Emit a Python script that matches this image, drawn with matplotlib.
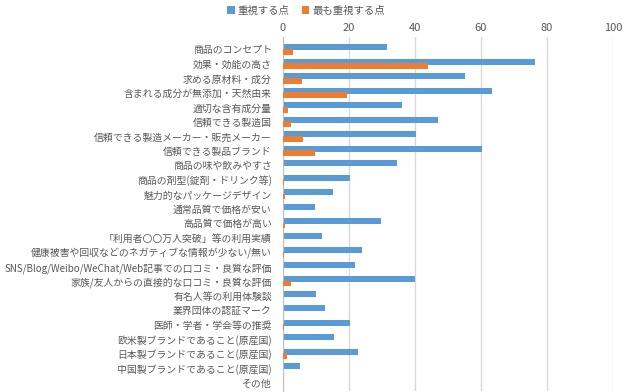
import matplotlib
matplotlib.use("Agg")
import matplotlib.pyplot as plt
import numpy as np

plt.rcParams['font.family'] = ['Noto Sans CJK JP', 'DejaVu Sans']

# Data
categories = [
    "商品のコンセプト", "効果・効能の高さ", "求める原材料・成分",
    "含まれる成分が無添加・天然由来", "適切な含有成分量", "信頼できる製造国",
    "信頼できる製造メーカー・販売メーカー", "信頼できる製品ブランド",
    "商品の味や飲みやすさ", "商品の剤型(錠剤・ドリンク等)", "魅力的なパッケージデザイン",
    "通常品質で価格が安い", "高品質で価格が高い", "「利用者〇〇万人突破」等の利用実績",
    "健康被害や回収などのネガティブな情報が少ない/無い",
    "SNS/Blog/Weibo/WeChat/Web記事での口コミ・良質な評価",
    "家族/友人からの直接的な口コミ・良質な評価", "有名人等の利用体験談",
    "業界団体の認証マーク", "医師・学者・学会等の推奨", "欧米製ブランドであること(原産国)",
    "日本製ブランドであること(原産国)", "中国製ブランドであること(原産国)", "その他",
]
important = [31.4, 76.4, 55.3, 63.2, 36.2, 47.1, 40.4, 60.2, 34.5, 20.3, 15.3, 9.7,
             29.8, 11.9, 24.0, 21.7, 39.9, 9.9, 12.7, 20.2, 15.6, 22.6, 5.1, 0.0]
most_important = [3.1, 43.9, 5.8, 19.4, 1.4, 2.4, 6.1, 9.7, 0.0, 0.3, 0.5, 0.0,
                  0.5, 0.0, 0.2, 0.0, 2.4, 0.0, 0.0, 0.2, 0.0, 1.2, 0.0, 0.0]
xticks = [0, 20, 40, 60, 80, 100]

blue = "#5B9BD5"
orange = "#ED7D31"
text_col = "#595959"

fig = plt.figure(figsize=(6.25, 3.92), dpi=100)
ax = fig.add_axes([0.4528, 0.003, 0.528, 0.9026])

y = np.arange(len(categories))
h = 0.4
ax.barh(y - 0.15, important, height=h, color=blue, label="重視する点", zorder=2)
ax.barh(y + 0.15, most_important, height=h, color=orange, label="最も重視する点", zorder=3)

ax.set_xlim(0, 100)
ax.set_ylim(23.55, -0.86)
ax.set_xticks(xticks)
ax.xaxis.tick_top()
ax.tick_params(axis='x', length=0, labelsize=8, colors=text_col, pad=3)
ax.set_yticks(y)
ax.set_yticklabels(categories, fontsize=7.1, color=text_col)
ax.tick_params(axis='y', length=0, pad=8)
ax.grid(axis='x', color="#D9D9D9", linewidth=1, zorder=0)
for s in ["top", "right", "bottom"]:
    ax.spines[s].set_visible(False)
ax.spines["left"].set_color("#BFBFBF")

leg = fig.legend(loc="upper center", bbox_to_anchor=(0.49, 1.01), ncol=2, frameon=False,
                 fontsize=7.5, handlelength=0.7, handleheight=0.7, handletextpad=0.3,
                 columnspacing=1.2)
for t in leg.get_texts():
    t.set_color(text_col)

fig.savefig("out.png", dpi=100)
